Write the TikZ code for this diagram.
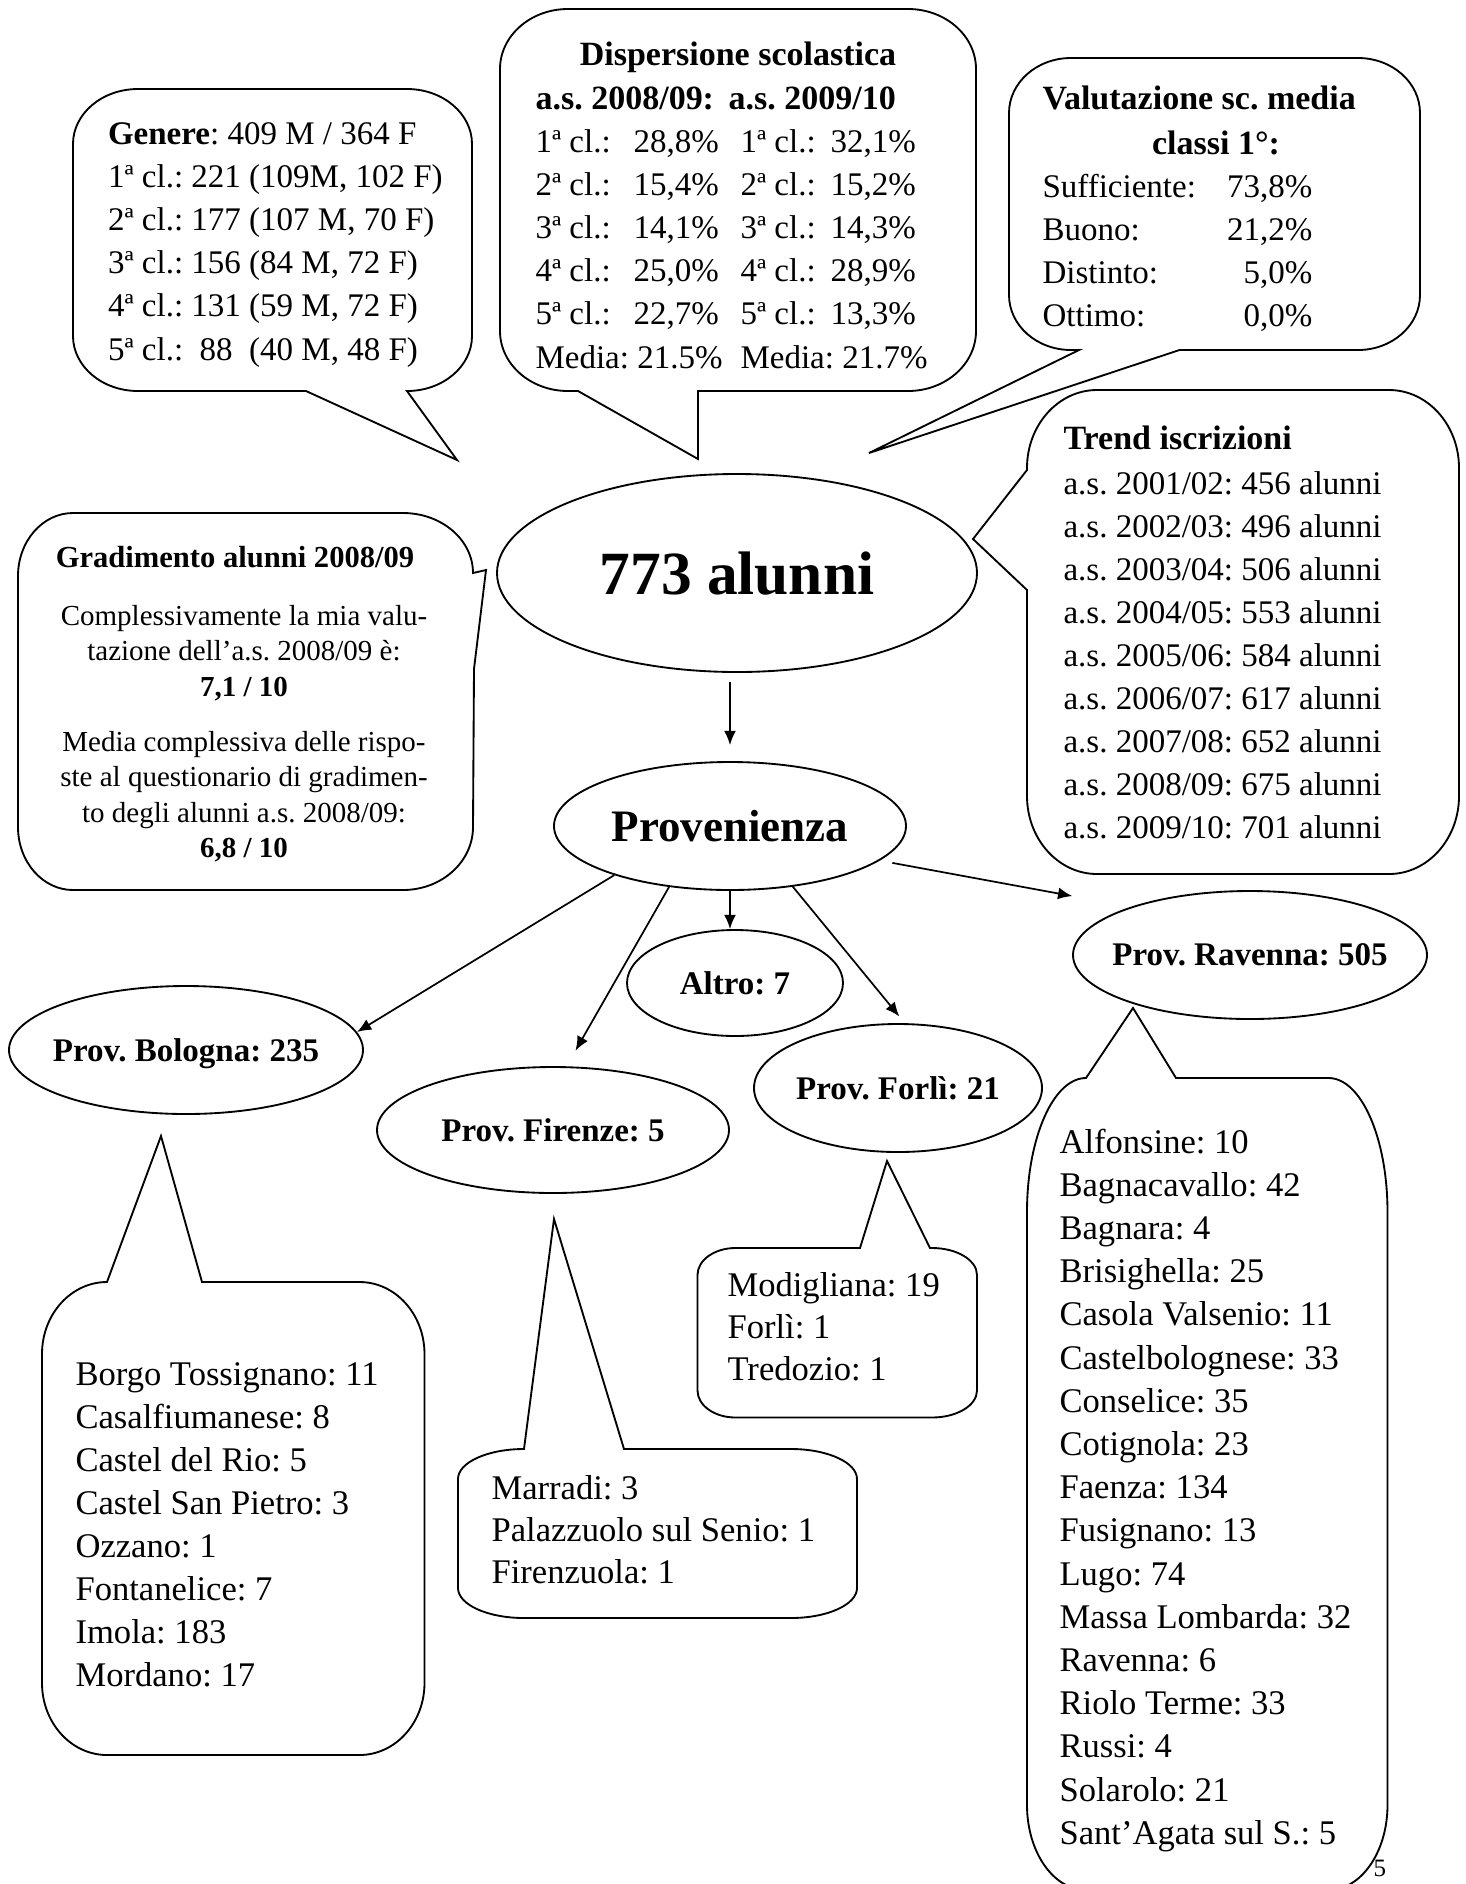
\documentclass[tikz,border=0pt]{standalone}
\usepackage{fontspec}
\setmainfont{Liberation Serif}
\usetikzlibrary{arrows.meta,shapes.geometric}
\begin{document}
\frenchspacing
\begin{tikzpicture}[x=0.35pt,y=0.35pt,
  bubble/.style={draw=black, fill=white, line width=0.65pt, line join=miter},
  ell/.style 2 args={draw, ellipse, line width=0.65pt, inner sep=0pt, text depth=0pt,
    minimum width=#1*0.35pt, minimum height=#2*0.35pt,
    font=\fontsize{11.55pt}{14pt}\selectfont\bfseries},
  arr/.style={-{Latex[length=5pt,width=4.2pt]}, line width=0.6pt},
  txt/.style={anchor=base west, inner sep=0pt, font=\fontsize{11.55pt}{15.12pt}\selectfont},
  ctxt/.style={anchor=base, inner sep=0pt, font=\fontsize{11.55pt}{15.12pt}\selectfont},
  btxt/.style={anchor=base west, inner sep=0pt, font=\fontsize{12.1pt}{15.05pt}\selectfont},
  head/.style={inner sep=0pt, font=\fontsize{11.9pt}{15pt}\selectfont\bfseries}
]
\fill[white] (0,0) rectangle (1466,-1884);
\useasboundingbox (0,0) rectangle (1466,-1884);

% ---------- callout shapes ----------
\begin{scope}
\clip (0,0) rectangle (1466,-1884);
% Genere
\draw[bubble] (138,-89) -- (407,-89) arc[start angle=90,end angle=0,x radius=65,y radius=55]
  -- (472,-336) arc[start angle=0,end angle=-90,x radius=65,y radius=55]
  -- (457,-460) -- (306,-391) -- (138,-391)
  arc[start angle=-90,end angle=-180,x radius=65,y radius=55]
  -- (73,-144) arc[start angle=180,end angle=90,x radius=65,y radius=55] -- cycle;
% Dispersione scolastica
\draw[bubble] (568,-9) -- (908,-9) arc[start angle=90,end angle=0,x radius=68,y radius=60]
  -- (976,-331) arc[start angle=0,end angle=-90,x radius=68,y radius=60]
  -- (698,-391) -- (698,-459) -- (578,-391) -- (568,-391)
  arc[start angle=-90,end angle=-180,x radius=68,y radius=60]
  -- (500,-69) arc[start angle=180,end angle=90,x radius=68,y radius=60] -- cycle;
% Valutazione sc. media
\draw[bubble] (1071,-58) -- (1358,-58) arc[start angle=90,end angle=0,x radius=62,y radius=55]
  -- (1420,-295) arc[start angle=0,end angle=-90,x radius=62,y radius=55]
  -- (1179.5,-350) -- (869,-453) -- (1079,-350) -- (1071,-350)
  arc[start angle=-90,end angle=-180,x radius=62,y radius=55]
  -- (1009,-113) arc[start angle=180,end angle=90,x radius=62,y radius=55] -- cycle;
% Trend iscrizioni
\draw[bubble] (1097,-390) -- (1389,-390) arc[start angle=90,end angle=0,x radius=70,y radius=78]
  -- (1459,-796) arc[start angle=0,end angle=-90,x radius=70,y radius=78]
  -- (1097,-874) arc[start angle=-90,end angle=-180,x radius=70,y radius=78]
  -- (1027,-590) -- (973,-539) -- (1027,-470) -- (1027,-468)
  arc[start angle=180,end angle=90,x radius=70,y radius=78] -- cycle;
% Gradimento alunni
\draw[bubble] (73,-513) -- (403,-513) arc[start angle=90,end angle=0,x radius=70,y radius=60]
  -- (486,-570) -- (474,-669) -- (473,-827)
  arc[start angle=0,end angle=-90,x radius=70,y radius=63]
  -- (73,-890) arc[start angle=-90,end angle=-180,x radius=55,y radius=63]
  -- (18,-576) arc[start angle=180,end angle=90,x radius=55,y radius=63] -- cycle;
% Bologna
\draw[bubble] (107,-1282) -- (161,-1136) -- (202,-1282) -- (359.5,-1282)
  arc[start angle=90,end angle=0,x radius=65,y radius=72]
  -- (424.5,-1683) arc[start angle=0,end angle=-90,x radius=65,y radius=72]
  -- (107,-1755) arc[start angle=-90,end angle=-180,x radius=65,y radius=72]
  -- (42,-1354) arc[start angle=180,end angle=90,x radius=65,y radius=72] -- cycle;
% Firenze
\draw[bubble] (524,-1449) -- (554,-1219) -- (624,-1449) -- (791,-1449)
  arc[start angle=90,end angle=0,x radius=66,y radius=30]
  -- (857,-1588) arc[start angle=0,end angle=-90,x radius=66,y radius=30]
  -- (524,-1618) arc[start angle=-90,end angle=-180,x radius=66,y radius=30]
  -- (458,-1479) arc[start angle=180,end angle=90,x radius=66,y radius=30] -- cycle;
% Forli
\draw[bubble] (735.5,-1248) -- (860,-1248) -- (887,-1161) -- (930,-1248) -- (932,-1248)
  arc[start angle=90,end angle=0,x radius=45,y radius=27]
  -- (977,-1390.5) arc[start angle=0,end angle=-90,x radius=45,y radius=27]
  -- (735.5,-1417.5) arc[start angle=-90,end angle=-180,x radius=38,y radius=27]
  -- (697.5,-1275) arc[start angle=180,end angle=90,x radius=38,y radius=27] -- cycle;
% Ravenna
\draw[bubble] (1086,-1078) -- (1133,-1008) -- (1176,-1078) -- (1328.5,-1078)
  arc[start angle=90,end angle=0,x radius=59,y radius=134]
  -- (1387.5,-1805) arc[start angle=0,end angle=-90,x radius=59,y radius=85]
  -- (1086,-1890) arc[start angle=-90,end angle=-180,x radius=59,y radius=85]
  -- (1027,-1212) arc[start angle=180,end angle=90,x radius=59,y radius=134] -- cycle;
\end{scope}

% ---------- ellipses ----------
\node[ell={480}{198}, font=\fontsize{21.5pt}{24pt}\selectfont\bfseries] (alunni) at (737,-573) {\makebox[0pt]{773 alunni}};
\node[ell={352}{128}, font=\fontsize{15.75pt}{18pt}\selectfont\bfseries] (prov) at (730,-826) {\makebox[0pt]{Provenienza}};
\node[ell={216}{106}] (altro) at (735,-983) {\makebox[0pt]{Altro: 7}};
\node[ell={354}{128}] (bol) at (186,-1050) {\makebox[0pt]{Prov. Bologna: 235}};
\node[ell={352}{126}] (fir) at (553,-1130) {\makebox[0pt]{Prov. Firenze: 5}};
\node[ell={288}{128}] (forli) at (898,-1088) {\makebox[0pt]{Prov. Forlì: 21}};
\node[ell={354}{128}] (rav) at (1250,-955) {\makebox[0pt]{Prov. Ravenna: 505}};

% ---------- arrows ----------
\draw[arr, shorten <=3pt, shorten >=5.6pt] (prov.north |- alunni.south) -- (prov.north);
\draw[arr] (prov.south) -- (prov.south |- altro.north);
\draw[arr] (prov.203) -- (bol.6);
\draw[arr, shorten >=6.3pt] (prov.225) -- (fir.78);
\draw[arr, shorten >=3pt] (prov.316) -- (forli.84);
\draw[arr, shorten <=4.5pt, shorten >=20.8pt] (prov.347) -- (rav.158);

% ---------- Genere ----------
\node[txt] (gen) at (107.5,-144) {\begin{tabular}[t]{@{}l@{}}
\textbf{Genere}: 409 M / 364 F\\
1ª cl.: 221 (109M, 102 F)\\
2ª cl.: 177 (107 M, 70 F)\\
3ª cl.: 156 (84 M, 72 F)\\
4ª cl.: 131 (59 M, 72 F)\\
5ª cl.:\ \ 88\ \ (40 M, 48 F)
\end{tabular}};

% ---------- Dispersione scolastica ----------
\node[head, anchor=base] (dt) at (738,-65) {Dispersione scolastica};
\node[head, anchor=base west] (dy1) at (535,-109) {a.s. 2008/09:};
\node[head, anchor=base west] (dy2) at (728,-109) {a.s. 2009/10};
\node[txt] (d1) at (535,-152) {\begin{tabular}[t]{@{}l@{}}
1ª cl.:\\2ª cl.:\\3ª cl.:\\4ª cl.:\\5ª cl.:\\Media: 21.5\%\end{tabular}};
\node[txt] (d2) at (633,-152) {\begin{tabular}[t]{@{}l@{}}
28,8\%\\15,4\%\\14,1\%\\25,0\%\\22,7\%\end{tabular}};
\node[txt] (d3) at (740,-152) {\begin{tabular}[t]{@{}l@{}}
1ª cl.:\\2ª cl.:\\3ª cl.:\\4ª cl.:\\5ª cl.:\\Media: 21.7\%\end{tabular}};
\node[txt] (d4) at (830,-152) {\begin{tabular}[t]{@{}l@{}}
32,1\%\\15,2\%\\14,3\%\\28,9\%\\13,3\%\end{tabular}};

% ---------- Valutazione ----------
\node[head, anchor=base west] (vt1) at (1042,-109.5) {Valutazione sc. media};
\node[head, anchor=base] (vt2) at (1216,-154) {classi 1°:};
\node[txt] (vl) at (1042,-197) {\begin{tabular}[t]{@{}l@{}}
Sufficiente:\\Buono:\\Distinto:\\Ottimo:\end{tabular}};
\node[txt, anchor=base east] (vv) at (1313,-197) {\begin{tabular}[t]{@{}r@{}}
73,8\%\\21,2\%\\5,0\%\\0,0\%\end{tabular}};

% ---------- Trend iscrizioni ----------
\node[head, anchor=base west] (tt) at (1063,-449) {Trend iscrizioni};
\node[txt, font=\fontsize{11.55pt}{15.05pt}\selectfont] (tr) at (1063,-494) {\begin{tabular}[t]{@{}l@{}}
a.s. 2001/02: 456 alunni\\
a.s. 2002/03: 496 alunni\\
a.s. 2003/04: 506 alunni\\
a.s. 2004/05: 553 alunni\\
a.s. 2005/06: 584 alunni\\
a.s. 2006/07: 617 alunni\\
a.s. 2007/08: 652 alunni\\
a.s. 2008/09: 675 alunni\\
a.s. 2009/10: 701 alunni\end{tabular}};

% ---------- Gradimento ----------
\node[head, anchor=base, font=\fontsize{10.7pt}{13pt}\selectfont\bfseries] (gt) at (235,-567) {Gradimento alunni 2008/09};
\node[ctxt, font=\fontsize{10.15pt}{12.43pt}\selectfont] (g1) at (244,-625) {\begin{tabular}[t]{@{}c@{}}
Complessivamente la mia valu-\\
tazione dell’a.s. 2008/09 è:\\
\textbf{7,1 / 10}\end{tabular}};
\node[ctxt, font=\fontsize{10.15pt}{12.43pt}\selectfont] (g2) at (244,-751) {\begin{tabular}[t]{@{}c@{}}
Media complessiva delle rispo-\\
ste al questionario di gradimen-\\
to degli alunni a.s. 2008/09:\\
\textbf{6,8 / 10}\end{tabular}};

% ---------- municipality lists ----------
\node[btxt] (lbol) at (75,-1385) {\begin{tabular}[t]{@{}l@{}}
Borgo Tossignano: 11\\
Casalfiumanese: 8\\
Castel del Rio: 5\\
Castel San Pietro: 3\\
Ozzano: 1\\
Fontanelice: 7\\
Imola: 183\\
Mordano: 17\end{tabular}};
\node[btxt, font=\fontsize{12.1pt}{14.7pt}\selectfont] (lfir) at (491,-1499) {\begin{tabular}[t]{@{}l@{}}
Marradi: 3\\
Palazzuolo sul Senio: 1\\
Firenzuola: 1\end{tabular}};
\node[btxt, font=\fontsize{12.1pt}{14.7pt}\selectfont] (lfor) at (727,-1296) {\begin{tabular}[t]{@{}l@{}}
Modigliana: 19\\
Forlì: 1\\
Tredozio: 1\end{tabular}};
\node[btxt, font=\fontsize{12.1pt}{15.12pt}\selectfont] (lrav) at (1059,-1153) {\begin{tabular}[t]{@{}l@{}}
Alfonsine: 10\\
Bagnacavallo: 42\\
Bagnara: 4\\
Brisighella: 25\\
Casola Valsenio: 11\\
Castelbolognese: 33\\
Conselice: 35\\
Cotignola: 23\\
Faenza: 134\\
Fusignano: 13\\
Lugo: 74\\
Massa Lombarda: 32\\
Ravenna: 6\\
Riolo Terme: 33\\
Russi: 4\\
Solarolo: 21\\
Sant’Agata sul S.: 5\end{tabular}};

% page number
\node[anchor=base west, inner sep=0pt, font=\fontsize{8.75pt}{10pt}\selectfont] (pnum) at (1373,-1876) {5};
\end{tikzpicture}
\end{document}
